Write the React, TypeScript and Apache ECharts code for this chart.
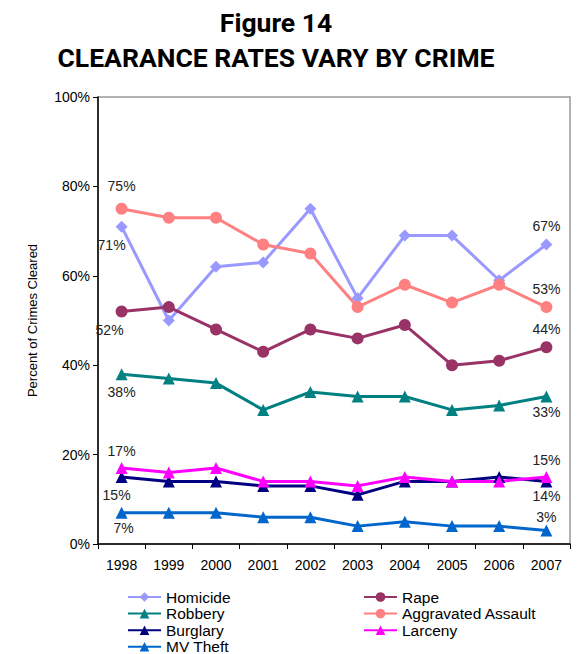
import React, { useEffect, useRef } from "react";
import * as echarts from "echarts";

const years = ["1998", "1999", "2000", "2001", "2002", "2003", "2004", "2005", "2006", "2007"];
const homicide = [71, 50, 62, 63, 75, 55, 69, 69, 59, 67];
const rape = [52, 53, 48, 43, 48, 46, 49, 40, 41, 44];
const aggravatedAssault = [75, 73, 73, 67, 65, 53, 58, 54, 58, 53];
const robbery = [38, 37, 36, 30, 34, 33, 33, 30, 31, 33];
const burglary = [15, 14, 14, 13, 13, 11, 14, 14, 15, 14];
const larceny = [17, 16, 17, 14, 14, 13, 15, 14, 14, 15];
const mvTheft = [7, 7, 7, 6, 6, 4, 5, 4, 4, 3];

const FONT = "'Liberation Sans', Arial, sans-serif";

type LabelCfg = { pos: string; dist: number; off?: [number, number] };
type Cfg = {
  name: string;
  data: number[];
  color: string;
  symbol: string;
  size: number;
  first: LabelCfg;
  last: LabelCfg;
};

const seriesCfg: Cfg[] = [
  { name: "Homicide", data: homicide, color: "#9999FF", symbol: "diamond", size: 12, first: { pos: "bottom", dist: 5, off: [-10, 0] }, last: { pos: "top", dist: 6 } },
  { name: "Rape", data: rape, color: "#993366", symbol: "circle", size: 12, first: { pos: "bottom", dist: 5, off: [-12, 0] }, last: { pos: "top", dist: 5 } },
  { name: "Aggravated Assault", data: aggravatedAssault, color: "#FF8080", symbol: "circle", size: 12, first: { pos: "top", dist: 10 }, last: { pos: "top", dist: 5 } },
  { name: "Robbery", data: robbery, color: "#008080", symbol: "triangle", size: 12, first: { pos: "bottom", dist: 5 }, last: { pos: "bottom", dist: 3 } },
  { name: "Burglary", data: burglary, color: "#000080", symbol: "triangle", size: 12, first: { pos: "bottom", dist: 5, off: [-5, 0] }, last: { pos: "bottom", dist: 2 } },
  { name: "Larceny", data: larceny, color: "#FF00FF", symbol: "triangle", size: 12, first: { pos: "top", dist: 4 }, last: { pos: "top", dist: 4 } },
  { name: "MV Theft", data: mvTheft, color: "#0066CC", symbol: "triangle", size: 12, first: { pos: "bottom", dist: 2, off: [2, 0] }, last: { pos: "top", dist: 1 } },
];

export default function App() {
  const ref = useRef<HTMLDivElement>(null);
  useEffect(() => {
    if (!ref.current) return;
    const chart = echarts.init(ref.current, null, { renderer: "svg" });
    const series = seriesCfg.map((c) => ({
      name: c.name,
      type: "line",
      symbol: c.symbol,
      symbolSize: c.size,
      color: c.color,
      lineStyle: { width: 3, color: c.color },
      itemStyle: { color: c.color },
      data: c.data.map((v, i) => {
        if (i === 0 || i === c.data.length - 1) {
          const lc = i === 0 ? c.first : c.last;
          return {
            value: v,
            label: {
              show: true,
              position: lc.pos,
              distance: lc.dist,
              offset: lc.off || [0, 0],
              formatter: "{c}%",
              color: "#222",
              fontSize: 14,
              fontFamily: FONT,
            },
          };
        }
        return v;
      }),
    }));
    const legendText = { fontSize: 15.5, color: "#000", fontFamily: FONT, lineHeight: 15.5 };
    const legendBase = {
      orient: "vertical",
      top: 589,
      padding: 0,
      itemWidth: 33,
      itemHeight: 12,
      itemGap: 0.6,
      height: 80,
      textStyle: legendText,
    };
    chart.setOption({
      animation: false,
      backgroundColor: "#fff",
      title: {
        text: "Figure 14\nCLEARANCE RATES VARY BY CRIME",
        left: 271,
        textAlign: "center",
        top: 0,
        textStyle: { fontSize: 26.5, fontWeight: "bold", fontFamily: "Roboto, sans-serif", color: "#000", lineHeight: 35 },
      },
      grid: { left: 98, top: 97, width: 472, height: 447, show: true, borderColor: "#999", borderWidth: 1.5, backgroundColor: "transparent" },
      legend: [
        { ...legendBase, left: 127, data: ["Homicide", "Robbery", "Burglary", "MV Theft"] },
        { ...legendBase, left: 363, data: ["Rape", "Aggravated Assault", "Larceny"] },
      ],
      xAxis: {
        type: "category",
        data: years,
        boundaryGap: true,
        axisLine: { lineStyle: { color: "#000", width: 1.5 } },
        axisTick: { show: true, length: 5, lineStyle: { color: "#000" } },
        axisLabel: { fontSize: 14, color: "#000", fontFamily: FONT, margin: 14 },
      },
      yAxis: {
        type: "value",
        min: 0,
        max: 100,
        interval: 20,
        name: "Percent of Crimes Cleared",
        nameLocation: "middle",
        nameGap: 59,
        nameTextStyle: { fontSize: 13, color: "#000", fontFamily: FONT },
        axisLine: { show: true, lineStyle: { color: "#000", width: 1.5 } },
        axisTick: { show: true, length: 5, lineStyle: { color: "#000" } },
        splitLine: { show: false },
        axisLabel: { fontSize: 14, color: "#000", fontFamily: FONT, margin: 8, formatter: "{value}%" },
      },
      series,
    });
    return () => chart.dispose();
  }, []);
  return <div ref={ref} style={{ width: 578, height: 654, position: "absolute", left: 0, top: 0 }} />;
}
